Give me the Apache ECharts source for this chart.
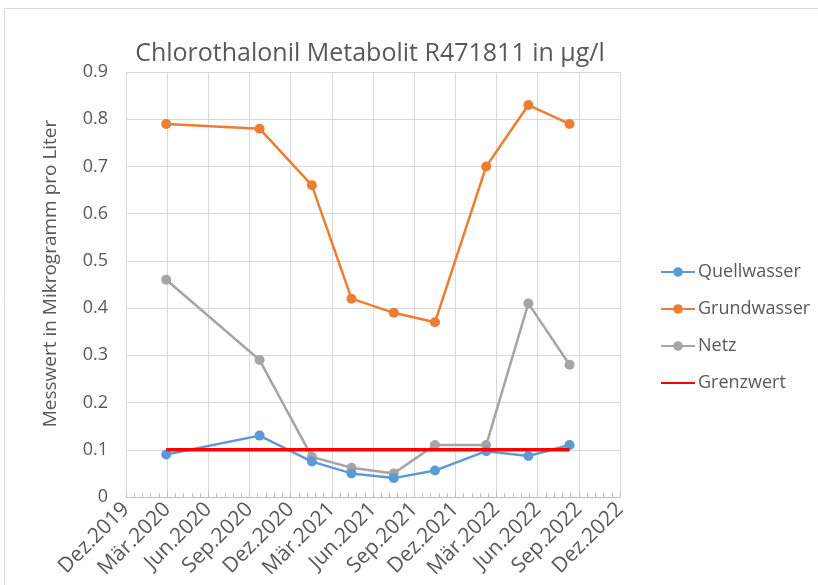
<!DOCTYPE html>
<html>
<head>
<meta charset="utf-8">
<script src="https://cdn.jsdelivr.net/npm/echarts@6/dist/echarts.min.js"></script>
<style>html,body{margin:0;padding:0;background:#fff}#c{width:818px;height:585px}</style>
</head>
<body>
<div id="c"></div>
<script>
const sampleDates = ['2020-02-28','2020-09-23','2021-01-18','2021-04-14','2021-07-17','2021-10-17','2022-02-08','2022-05-11','2022-08-11'];
const quellwasser = [0.09, 0.13, 0.075, 0.05, 0.04, 0.056, 0.097, 0.087, 0.11];
const grundwasser = [0.79, 0.78, 0.66, 0.42, 0.39, 0.37, 0.70, 0.83, 0.79];
const netz = [0.46, 0.29, 0.085, 0.062, 0.05, 0.11, 0.11, 0.41, 0.28];
const grenzwert = [0.1, 0.1, 0.1, 0.1, 0.1, 0.1, 0.1, 0.1, 0.1];
const xTickLabels = ['Dez.2019','Mär.2020','Jun.2020','Sep.2020','Dez.2020','Mär.2021','Jun.2021','Sep.2021','Dez.2021','Mär.2022','Jun.2022','Sep.2022','Dez.2022'];
const yTicks = [0,0.1,0.2,0.3,0.4,0.5,0.6,0.7,0.8,0.9];

function toMonths(s){
  const [y,m,d] = s.split('-').map(Number);
  const dim = new Date(y, m, 0).getDate();
  return (y-2019)*12 + (m-12) + (d-1)/dim;
}
const xs = sampleDates.map(toMonths);
const pair = arr => arr.map((v,i)=>[xs[i], v]);

const FONT = 'Open Sans';
const TXT = '#595959';
const chart = echarts.init(document.getElementById('c'), null, {renderer:'canvas'});
chart.setOption({
  animation:false,
  backgroundColor:'#fff',
  textStyle:{fontFamily:FONT},
  title:{
    text:'Chlorothalonil Metabolit R471811 in µg/l',
    left:365, top:36, textAlign:'center',
    textStyle:{fontFamily:FONT, fontSize:25, fontWeight:'normal', color:TXT}
  },
  graphic:[{type:'rect', shape:{x:4.5,y:8.5,width:830,height:600}, style:{fill:'none', stroke:'#d9d9d9', lineWidth:1}, silent:true}],
  grid:{left:126, right:198, top:72, bottom:88, containLabel:false},
  legend:{
    orient:'vertical', left:655, top:258, itemGap:19, itemWidth:34, itemHeight:12,
    textStyle:{fontFamily:FONT, fontSize:18, color:TXT, padding:[0,0,0,-2]},
    data:['Quellwasser','Grundwasser','Netz',{name:'Grenzwert', itemStyle:{opacity:0}}]
  },
  xAxis:{
    type:'value', min:0, max:36, interval:3,
    axisLine:{show:true, lineStyle:{color:'#bfbfbf', width:1}},
    axisTick:{show:true, inside:true, length:5, lineStyle:{color:'#bfbfbf'}},
    minorTick:{show:true, splitNumber:5, length:4, lineStyle:{color:'#bfbfbf'}},
    splitLine:{show:true, lineStyle:{color:'#d9d9d9', width:1}},
    axisLabel:{
      rotate:45, margin:9, fontFamily:FONT, fontSize:21, color:TXT,
      formatter:v => xTickLabels[Math.round(v/3)] || ''
    }
  },
  yAxis:{
    type:'value', min:0, max:0.9, interval:0.1,
    name:'Messwert in Mikrogramm pro Liter', nameLocation:'middle', nameGap:66,
    nameTextStyle:{fontFamily:FONT, fontSize:19, color:TXT, padding:[0,0,0,22]},
    axisLine:{show:false}, axisTick:{show:false},
    splitLine:{show:true, lineStyle:{color:'#d9d9d9', width:1}},
    axisLabel:{margin:18, fontFamily:FONT, fontSize:18, color:TXT,
      formatter:v => { const t = yTicks.find(x=>Math.abs(x-v)<1e-9); return t===undefined? '' : String(t); }}
  },
  series:[
    {name:'Quellwasser', type:'line', data:pair(quellwasser), symbol:'circle', symbolSize:10,
      itemStyle:{color:'#5b9bd5'}, lineStyle:{color:'#5b9bd5', width:2.5}, z:3},
    {name:'Grundwasser', type:'line', data:pair(grundwasser), symbol:'circle', symbolSize:10,
      itemStyle:{color:'#ed7d31'}, lineStyle:{color:'#ed7d31', width:2.5}, z:3},
    {name:'Netz', type:'line', data:pair(netz), symbol:'circle', symbolSize:10,
      itemStyle:{color:'#a5a5a5'}, lineStyle:{color:'#a5a5a5', width:2.5}, z:2},
    {name:'Grenzwert', type:'line', data:pair(grenzwert), symbol:'none',
      itemStyle:{color:'#ff0000'}, lineStyle:{color:'#ff0000', width:3.5}, z:4}
  ]
});
</script>
</body>
</html>
